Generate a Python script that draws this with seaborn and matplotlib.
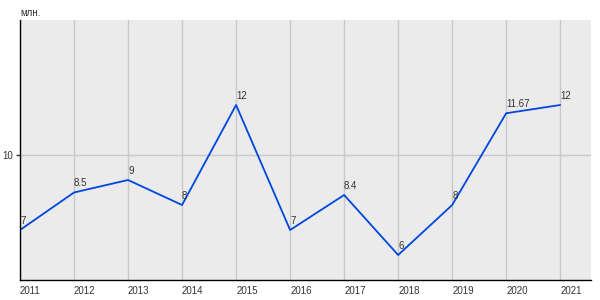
import matplotlib
matplotlib.use("Agg")
import matplotlib.pyplot as plt
import seaborn as sns
import pandas as pd

years = [2011, 2012, 2013, 2014, 2015, 2016, 2017, 2018, 2019, 2020, 2021]
values = [7, 8.5, 9, 8, 12, 7, 8.4, 6, 8, 11.67, 12]
labels = ["7", "8.5", "9", "8", "12", "7", "8.4", "6", "8", "11.67", "12"]
unit = "млн."

sns.set_style("whitegrid", {"axes.facecolor": "#ebebeb", "grid.color": "#c8c8c8"})
plt.rcParams["font.family"] = ["Liberation Sans", "DejaVu Sans"]

df = pd.DataFrame({"year": years, "value": values})

fig = plt.figure(figsize=(6, 3), dpi=100)
ax = fig.add_axes([20 / 600, 20 / 300, 571 / 600, 260 / 300])
sns.lineplot(data=df, x="year", y="value", ax=ax, color="#0047e0", linewidth=1.3)

for x, y, t in zip(years, values, labels):
    ax.annotate(t, (x, y), xytext=(0, 3), textcoords="offset points",
                ha="left", va="bottom", fontsize=7, color="#333333")

ax.set_xlim(2011, 2021.57)
ax.set_ylim(5, 15.4)
ax.set_xticks(years)
ax.set_xticklabels([str(y) for y in years], fontsize=7, color="#333333", ha="left")
ax.set_yticks([10])
ax.set_yticklabels(["10"], fontsize=7, color="#333333")
ax.grid(True, color="#c8c8c8", linewidth=1)
ax.tick_params(axis="x", length=0, pad=4)
ax.tick_params(axis="y", length=3, width=1, color="#333333", left=True, pad=2)
ax.set_xlabel("")
ax.set_ylabel("")
for s in ["top", "right"]:
    ax.spines[s].set_visible(False)
for s in ["left", "bottom"]:
    ax.spines[s].set_color("black")
    ax.spines[s].set_linewidth(1)
fig.text(20 / 600, 1 - 13 / 300, unit, fontsize=7, color="#333333", ha="left", va="center")

fig.savefig("out.png", dpi=100)
